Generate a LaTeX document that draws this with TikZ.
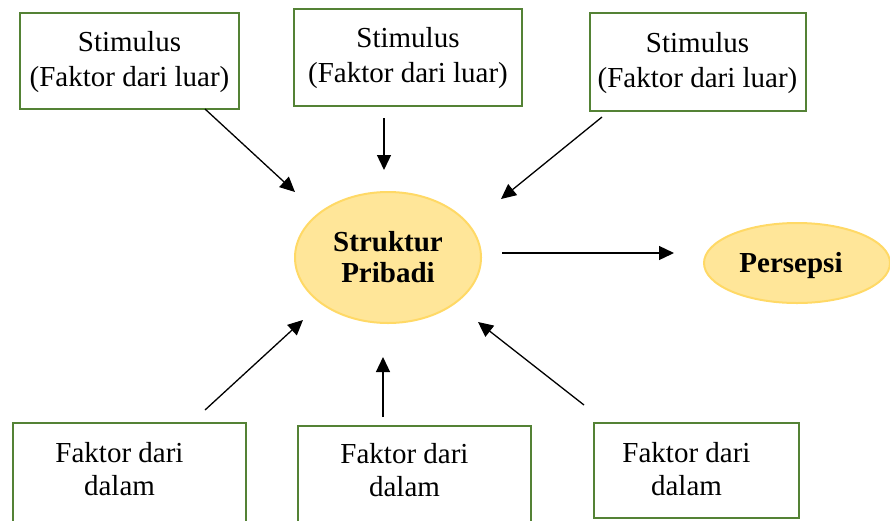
\documentclass[tikz,border=0pt]{standalone}
\usepackage{fontspec}
\setmainfont{Liberation Serif}
\usetikzlibrary{arrows.meta,shapes.geometric}
\definecolor{boxgreen}{RGB}{84,130,53}
\definecolor{ellfill}{RGB}{255,230,153}
\definecolor{elldraw}{RGB}{255,217,102}
\begin{document}
\begin{tikzpicture}[x=1pt,y=-1pt,
  gbox/.style={draw=boxgreen, line width=2.6pt, fill=white, inner sep=0pt},
  txt/.style={font=\fontsize{29}{35}\selectfont, align=center, inner sep=0pt},
  btxt/.style={font=\fontsize{29}{33}\selectfont, align=center, inner sep=0pt},
  ell/.style={ellipse, draw=elldraw, fill=ellfill, line width=2pt, inner sep=0pt,
    font=\fontsize{29}{31}\selectfont\bfseries, align=center},
  arr/.style={-{Triangle[length=15pt,width=14pt]}, line width=1.3pt}]
\useasboundingbox (0,0) rectangle (890,520);
\clip (0,0) rectangle (890,520);
% top boxes
\node[gbox, minimum width=219pt, minimum height=96pt] (t1) at (129.5,61) {};
\node[txt] (t1t) at (129.5,62.2) {Stimulus\\(Faktor dari luar)};
\node[gbox, minimum width=228pt, minimum height=97pt] (t2) at (408,57.5) {};
\node[txt] (t2t) at (408,57.7) {Stimulus\\(Faktor dari luar)};
\node[gbox, minimum width=216pt, minimum height=98pt] (t3) at (698,62) {};
\node[txt] (t3t) at (697.5,63.3) {Stimulus\\(Faktor dari luar)};
% bottom boxes
\node[gbox, minimum width=233pt, minimum height=110pt] (b1) at (129.5,478) {};
\node[btxt] (b1t) at (119.5,469.5) {Faktor dari\\dalam};
\node[gbox, minimum width=233pt, minimum height=106pt] (b2) at (414.5,479) {};
\node[btxt] (b2t) at (404.5,470.5) {Faktor dari\\dalam};
\node[gbox, minimum width=205pt, minimum height=95pt] (b3) at (696.5,470.5) {};
\node[btxt] (b3t) at (686.5,469.5) {Faktor dari\\dalam};
% ellipses
\node[ell, minimum width=186pt, minimum height=131pt] (sp) at (388,257.5) {Struktur\\Pribadi};
\node[ell, minimum width=186pt, minimum height=80pt] (ps) at (797,263) {};
\node[font=\fontsize{29}{31}\selectfont\bfseries, inner sep=0pt] (pst) at (791,266) {Persepsi};
% arrow end points
\coordinate (a1s) at (205,109); \coordinate (a1e) at (295,192);
\coordinate (a2s) at (384,118); \coordinate (a2e) at (384,170);
\coordinate (a3s) at (602,117); \coordinate (a3e) at (501,199);
\coordinate (a4s) at (502,253); \coordinate (a4e) at (674,253);
\coordinate (a5s) at (205,410); \coordinate (a5e) at (303,320);
\coordinate (a6s) at (383,417); \coordinate (a6e) at (383,357);
\coordinate (a7s) at (584,405); \coordinate (a7e) at (478,322);
\draw[arr] (a1s) -- (a1e);
\draw[arr] (a2s) -- (a2e);
\draw[arr] (a3s) -- (a3e);
\draw[arr] (a4s) -- (a4e);
\draw[arr] (a5s) -- (a5e);
\draw[arr] (a6s) -- (a6e);
\draw[arr] (a7s) -- (a7e);
\end{tikzpicture}
\end{document}
